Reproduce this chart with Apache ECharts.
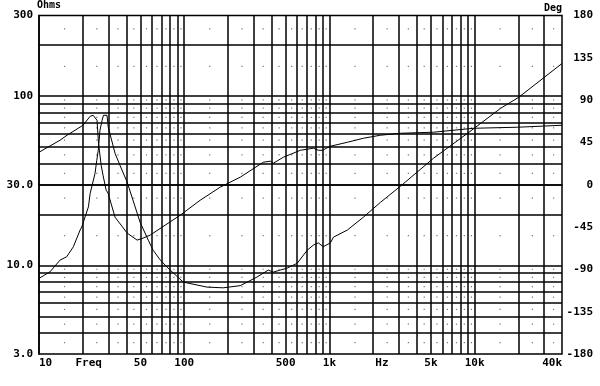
<!DOCTYPE html>
<html>
<head>
<meta charset="utf-8">
<script src="https://cdn.jsdelivr.net/npm/echarts@6/dist/echarts.min.js"></script>
<style>html,body{margin:0;padding:0;background:#fff}#c{width:600px;height:386px}</style>
</head>
<body>
<div id="c"></div>
<script>
// Impedance curve (Ohms, left axis)
var impFreq = [10, 11.9, 13.96, 15.5, 17.25, 19.2, 19.7, 21.9, 22.5, 24.3, 25.0, 25.6, 26.3, 27.2, 27.8, 28.5, 29.4, 30.0, 33.4, 36.1, 40.5, 49.7, 56.6, 61.1, 68.3, 76.2, 98.4, 143.7, 185.8, 243, 317, 379, 411, 458, 512, 600, 703, 776, 840, 907, 1016, 1067, 1331, 1716, 2247, 3088, 5214, 8955, 15100, 20110, 40000];
var impOhm  = [8.39, 9.17, 10.76, 11.25, 12.9, 16.2, 16.9, 22.2, 26.6, 34.9, 41.8, 47.9, 62.9, 72.1, 77.1, 78.1, 77.1, 65.5, 46.0, 39.1, 31.0, 18.0, 14.1, 12.3, 10.8, 9.78, 7.98, 7.45, 7.38, 7.6, 8.54, 9.39, 9.14, 9.39, 9.65, 10.3, 12.3, 13.2, 13.6, 12.9, 13.6, 14.7, 16.2, 19.3, 23.6, 29.4, 43.0, 60.4, 84.8, 98.4, 156];
// Phase curve (Deg, right axis)
var phaseFreq = [10, 13.96, 15.6, 20.1, 22.5, 23.6, 24.3, 25.1, 25.7, 26.8, 27.6, 29.0, 29.9, 33.4, 40.5, 47.4, 52.1, 58.3, 93.9, 128.9, 177.1, 243.3, 350.5, 391.8, 411, 481.8, 631, 775.6, 839.9, 894.6, 1016, 1331, 1716, 2247, 3088, 5214, 9843, 19800, 40000];
var phaseDeg  = [34.5, 47.3, 52.6, 63.2, 72.7, 73.8, 72.7, 68.5, 44.1, 20.7, 10.1, -5.8, -9.0, -34.5, -51.5, -58.9, -56.8, -53.6, -32.4, -16.5, -2.6, 8.0, 23.9, 25.0, 22.8, 29.2, 36.6, 38.8, 36.6, 36.6, 40.9, 45.1, 49.4, 52.6, 54.7, 55.8, 60.0, 61.1, 63.2];

// Grid lines and tick labels
var freqGrid = [20,30,40,50,60,70,80,90,100,200,300,400,500,600,700,800,900,1000,2000,3000,4000,5000,6000,7000,8000,9000,10000,20000,30000];
var ohmGrid = [4,5,6,7,8,9,10,20,30,40,50,60,70,80,90,100,200];
var freqDots = [15,25,35,45,55,65,75,85,95,150,250,350,450,550,650,750,850,950,1500,2500,3500,4500,5500,6500,7500,8500,9500,15000,25000,35000];
var ohmDots = [3.5,4.5,5.5,6.5,7.5,8.5,9.5,15,25,35,45,55,65,75,85,95,150,250];
var freqLabelValues = [10, 22, 50, 100, 500, 1000, 2300, 5000, 10000, 40000];
var freqLabelTexts = ['10', 'Freq', '50', '100', '500', '1k', 'Hz', '5k', '10k', '40k'];
var ohmLabelValues = [3, 10, 30, 100, 300];
var ohmLabelTexts = ['3.0', '10.0', '30.0', '100', '300'];

function pairs(xs, ys) { return xs.map(function (x, i) { return [x, ys[i]]; }); }
var dots = [];
freqDots.forEach(function (f) { ohmDots.forEach(function (o) { dots.push([f, o]); }); });

function lookup(vals, texts) {
  return function (v) {
    for (var i = 0; i < vals.length; i++) { if (Math.abs(v - vals[i]) / vals[i] < 1e-6) return texts[i]; }
    return '';
  };
}

var font = { fontFamily: 'DejaVu Sans Mono', fontWeight: 'bold', fontSize: 11, color: '#000' };
var gridLine = { show: true, lineStyle: { color: '#000', width: 1.5 } };

var chart = echarts.init(document.getElementById('c'), null, { renderer: 'canvas' });
chart.setOption({
  animation: false,
  backgroundColor: '#fff',
  grid: { left: 39, right: 38, top: 15, bottom: 32, show: true, borderColor: '#000', borderWidth: 1.5, containLabel: false },
  xAxis: {
    type: 'log', logBase: 10, min: 10, max: 40000,
    axisLine: { show: true, lineStyle: { color: '#000', width: 1.5 } },
    axisTick: { show: false, customValues: freqGrid },
    splitLine: Object.assign({ customValues: freqGrid }, gridLine),
    minorTick: { show: false }, minorSplitLine: { show: false },
    axisLabel: Object.assign({ customValues: freqLabelValues, formatter: lookup(freqLabelValues, freqLabelTexts), margin: 4, alignMinLabel: 'left', alignMaxLabel: 'right', showMinLabel: true, showMaxLabel: true }, font)
  },
  yAxis: [{
    type: 'log', logBase: 10, min: 3, max: 300,
    name: 'Ohms', nameLocation: 'end', nameGap: 2,
    nameTextStyle: Object.assign({ align: 'left', verticalAlign: 'bottom', fontSize: 10, padding: [0, 0, 0, -2] }, font, { fontSize: 10 }),
    axisLine: { show: true, lineStyle: { color: '#000', width: 1.5 } },
    axisTick: { show: false, customValues: ohmGrid },
    splitLine: Object.assign({ customValues: ohmGrid }, gridLine),
    axisLabel: Object.assign({ customValues: ohmLabelValues, formatter: lookup(ohmLabelValues, ohmLabelTexts), margin: 6, showMinLabel: true, showMaxLabel: true }, font)
  }, {
    type: 'value', min: -180, max: 180, interval: 45, position: 'right',
    name: 'Deg', nameLocation: 'end', nameGap: 2,
    nameTextStyle: Object.assign({}, font, { fontSize: 10, align: 'right', verticalAlign: 'bottom' }),
    axisLine: { show: false }, axisTick: { show: false }, splitLine: { show: false },
    axisLabel: Object.assign({ align: 'right', margin: 31 }, font)
  }],
  series: [{
    type: 'scatter', data: dots, symbol: 'rect', symbolSize: 1.2, silent: true,
    itemStyle: { color: '#555' }, yAxisIndex: 0, z: 1
  }, {
    type: 'line', data: pairs(impFreq, impOhm), yAxisIndex: 0, showSymbol: false, symbol: 'none',
    lineStyle: { color: '#000', width: 1 }, z: 5
  }, {
    type: 'line', data: pairs(phaseFreq, phaseDeg), yAxisIndex: 1, showSymbol: false, symbol: 'none',
    lineStyle: { color: '#000', width: 1 }, z: 5
  }]
});
</script>
</body>
</html>
